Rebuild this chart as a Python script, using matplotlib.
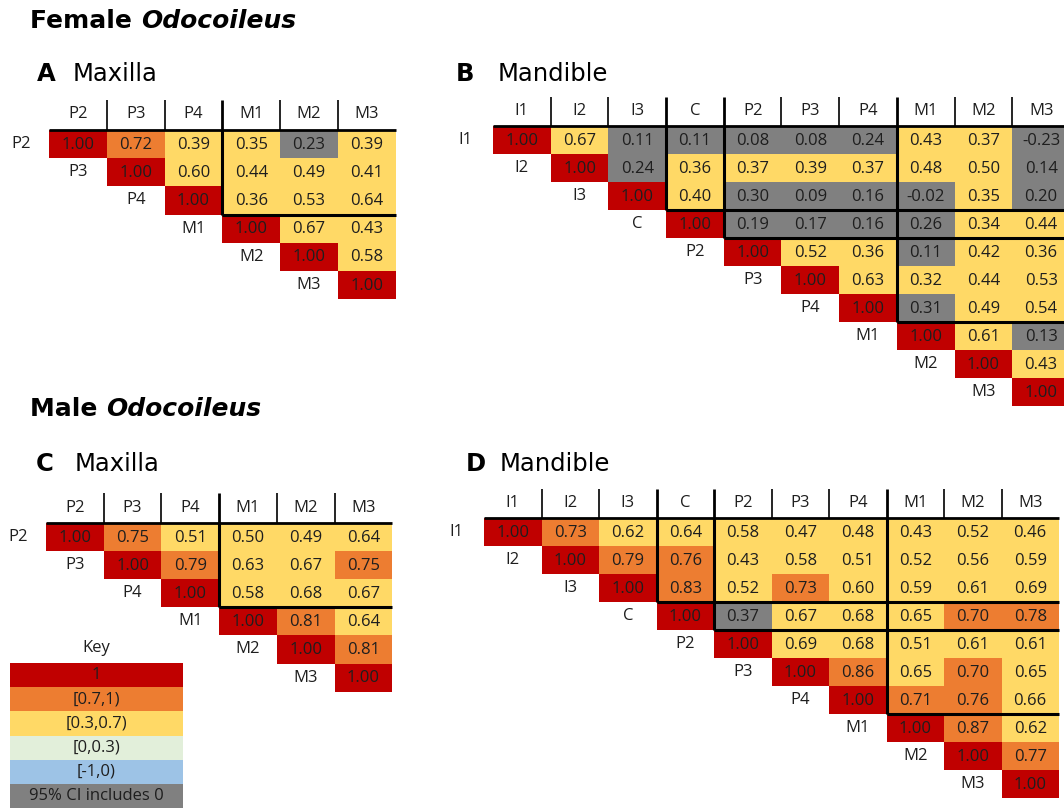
import matplotlib
matplotlib.use("Agg")
import matplotlib.pyplot as plt
from matplotlib.patches import Rectangle

# ---------------- data ----------------
maxilla_labels = ["P2", "P3", "P4", "M1", "M2", "M3"]
mandible_labels = ["I1", "I2", "I3", "C", "P2", "P3", "P4", "M1", "M2", "M3"]
maxilla_groups = [3]          # P | M
mandible_groups = [3, 4, 7]   # I | C | P | M

female_maxilla = [
    [1.00, 0.72, 0.39, 0.35, 0.23, 0.39],
    [1.00, 0.60, 0.44, 0.49, 0.41],
    [1.00, 0.36, 0.53, 0.64],
    [1.00, 0.67, 0.43],
    [1.00, 0.58],
    [1.00],
]
female_maxilla_ci0 = [(0, 4)]

female_mandible = [
    [1.00, 0.67, 0.11, 0.11, 0.08, 0.08, 0.24, 0.43, 0.37, -0.23],
    [1.00, 0.24, 0.36, 0.37, 0.39, 0.37, 0.48, 0.50, 0.14],
    [1.00, 0.40, 0.30, 0.09, 0.16, -0.02, 0.35, 0.20],
    [1.00, 0.19, 0.17, 0.16, 0.26, 0.34, 0.44],
    [1.00, 0.52, 0.36, 0.11, 0.42, 0.36],
    [1.00, 0.63, 0.32, 0.44, 0.53],
    [1.00, 0.31, 0.49, 0.54],
    [1.00, 0.61, 0.13],
    [1.00, 0.43],
    [1.00],
]
female_mandible_ci0 = [(0, 2), (0, 3), (0, 4), (0, 5), (0, 6), (0, 9),
                       (1, 2), (1, 9),
                       (2, 4), (2, 5), (2, 6), (2, 7), (2, 9),
                       (3, 4), (3, 5), (3, 6), (3, 7),
                       (4, 7), (6, 7), (7, 9)]

male_maxilla = [
    [1.00, 0.75, 0.51, 0.50, 0.49, 0.64],
    [1.00, 0.79, 0.63, 0.67, 0.75],
    [1.00, 0.58, 0.68, 0.67],
    [1.00, 0.81, 0.64],
    [1.00, 0.81],
    [1.00],
]
male_maxilla_ci0 = []

male_mandible = [
    [1.00, 0.73, 0.62, 0.64, 0.58, 0.47, 0.48, 0.43, 0.52, 0.46],
    [1.00, 0.79, 0.76, 0.43, 0.58, 0.51, 0.52, 0.56, 0.59],
    [1.00, 0.83, 0.52, 0.73, 0.60, 0.59, 0.61, 0.69],
    [1.00, 0.37, 0.67, 0.68, 0.65, 0.70, 0.78],
    [1.00, 0.69, 0.68, 0.51, 0.61, 0.61],
    [1.00, 0.86, 0.65, 0.70, 0.65],
    [1.00, 0.71, 0.76, 0.66],
    [1.00, 0.87, 0.62],
    [1.00, 0.77],
    [1.00],
]
male_mandible_ci0 = [(3, 4)]

key_labels = ["1", "[0.7,1)", "[0.3,0.7)", "[0,0.3)", "[-1,0)", "95% CI includes 0"]

# ---------------- style ----------------
C_RED = "#C00000"
C_ORANGE = "#ED7D31"
C_YELLOW = "#FFD966"
C_GREEN = "#E2EFDA"
C_BLUE = "#9DC3E6"
C_GREY = "#808080"
key_colors = [C_RED, C_ORANGE, C_YELLOW, C_GREEN, C_BLUE, C_GREY]

CELL_FONT = "Open Sans"
TXT = "#1e1e1e"
W, H = 1064, 809


def cell_color(v, ci0):
    if ci0:
        return C_GREY
    if v >= 1.0:
        return C_RED
    if v >= 0.7:
        return C_ORANGE
    if v >= 0.3:
        return C_YELLOW
    if v >= 0.0:
        return C_GREEN
    return C_BLUE


fig = plt.figure(figsize=(W / 100, H / 100), dpi=100)
bg = fig.add_axes([0, 0, 1, 1])
bg.set_xlim(0, W)
bg.set_ylim(H, 0)
bg.axis("off")


def panel(x0, y0, cw, rh, labels, vals, ci0, groups):
    n = len(labels)
    ax = fig.add_axes([x0 / W, 1 - (y0 + n * rh) / H, n * cw / W, n * rh / H])
    ax.set_xlim(0, n)
    ax.set_ylim(n, 0)
    ax.axis("off")
    for i, row in enumerate(vals):
        for k, v in enumerate(row):
            j = i + k
            ax.add_patch(Rectangle((j, i), 1, 1, facecolor=cell_color(v, (i, j) in ci0),
                                   edgecolor="none", clip_on=False))
            ax.text(j + 0.5, i + 0.52, f"{v:.2f}", ha="center", va="center",
                    fontsize=12, family=CELL_FONT, color=TXT, clip_on=False)
    # row labels
    for i, lab in enumerate(labels):
        if i == 0:
            ax.text(-0.48, 0.5, lab, ha="center", va="center", fontsize=12,
                    family=CELL_FONT, color=TXT)
        else:
            ax.text(i - 0.5, i + 0.5, lab, ha="center", va="center", fontsize=12,
                    family=CELL_FONT, color=TXT)
    # column headers
    for j, lab in enumerate(labels):
        ax.text(j + 0.5, -0.55, lab, ha="center", va="center", fontsize=12,
                family=CELL_FONT, color=TXT, clip_on=False)
    for j in range(1, n):
        lw = 2.0 if j in groups else 1.2
        ax.plot([j, j], [-1.05, 0], color="black", lw=lw, clip_on=False,
                solid_capstyle="butt")
    ax.plot([0, n], [0, 0], color="black", lw=2.0, clip_on=False, solid_capstyle="butt")
    for b in groups:
        ax.plot([b, b], [0, b], color="black", lw=2.2, clip_on=False, solid_capstyle="butt")
        ax.plot([b, n], [b, b], color="black", lw=2.2, clip_on=False, solid_capstyle="butt")
    return ax


def title(x, y, a, b, size):
    t = bg.text(x, y, a, fontsize=size, fontweight="bold", family="DejaVu Sans",
                ha="left", va="center", color="black")
    fig.canvas.draw()
    bb = t.get_window_extent(renderer=fig.canvas.get_renderer())
    bg.text(bb.x1, y, b, fontsize=size, fontweight="bold", style="italic",
            family="DejaVu Sans", ha="left", va="center", color="black",
            transform=matplotlib.transforms.blended_transform_factory(
                matplotlib.transforms.IdentityTransform(), bg.transData))


def sublabel(x, letter, name, y, gap):
    bg.text(x, y, letter, fontsize=17.5, fontweight="bold", family="DejaVu Sans",
            ha="left", va="center", color="black")
    bg.text(x + gap, y, name, fontsize=17.5, family="DejaVu Sans",
            ha="left", va="center", color="black")


title(30, 21, "Female ", "Odocoileus", 18)
title(30, 409, "Male ", "Odocoileus", 18)

sublabel(37, "A", "Maxilla", 74, 36)
sublabel(456, "B", "Mandible", 74, 42)
sublabel(36, "C", "Maxilla", 464, 39)
sublabel(466, "D", "Mandible", 464, 34)

panel(49, 130, 57.8, 28.2, maxilla_labels, female_maxilla, female_maxilla_ci0, maxilla_groups)
panel(493, 126, 57.7, 28.0, mandible_labels, female_mandible, female_mandible_ci0, mandible_groups)
panel(46, 523, 57.7, 28.1, maxilla_labels, male_maxilla, male_maxilla_ci0, maxilla_groups)
panel(484, 518, 57.5, 28.0, mandible_labels, male_mandible, male_mandible_ci0, mandible_groups)

# key
kx0, ky0, kw, kh = 10, 663, 173, 24.2
kax = fig.add_axes([kx0 / W, 1 - (ky0 + 6 * kh) / H, kw / W, 6 * kh / H])
kax.set_xlim(0, 1)
kax.set_ylim(6, 0)
kax.axis("off")
for i, (lab, col) in enumerate(zip(key_labels, key_colors)):
    kax.add_patch(Rectangle((0, i), 1, 1, facecolor=col, edgecolor="none"))
    kax.text(0.5, i + 0.5, lab, ha="center", va="center", fontsize=12,
             family=CELL_FONT, color=TXT)
kax.text(0.5, -0.62, "Key", ha="center", va="center", fontsize=12,
         family=CELL_FONT, color=TXT, clip_on=False)

fig.savefig("out.png", dpi=100)
